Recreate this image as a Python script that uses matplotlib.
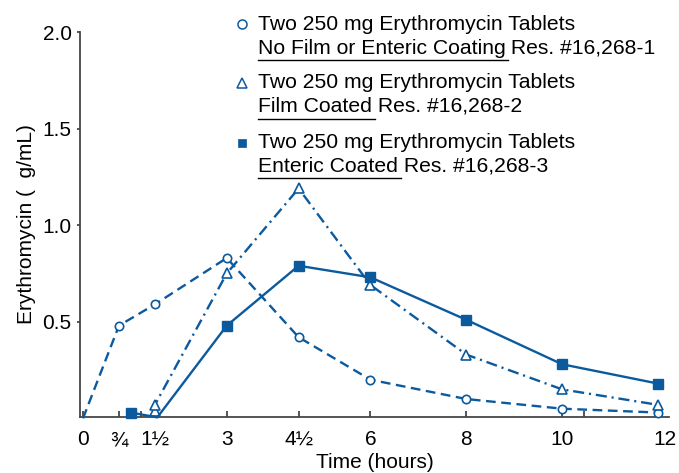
import matplotlib
matplotlib.use('Agg')
import matplotlib.pyplot as plt
from matplotlib.lines import Line2D
from matplotlib.transforms import ScaledTranslation

plt.rcParams['font.family'] = ['Liberation Sans', 'DejaVu Sans']
plt.rcParams['lines.scale_dashes'] = False

BLUE = '#0b5a9e'
AXIS = '#474747'

# Time axis ticks (hours)
time_ticks = [0, 0.75, 1.5, 3, 4.5, 6, 8, 10, 12]
time_labels = ['0', '¾', '1½', '3', '4½', '6', '8', '10', '12']
conc_ticks = [0.5, 1.0, 1.5, 2.0]
conc_labels = ['0.5', '1.0', '1.5', '2.0']

# Uncoated tablets
t_plain = [0, 0.75, 1.5, 3, 4.5, 6, 8, 10, 12]
c_plain = [0.0, 0.48, 0.59, 0.83, 0.42, 0.20, 0.10, 0.05, 0.03]

# Film coated tablets
t_film = [1.5, 1.5, 3, 4.5, 6, 8, 10, 12]
c_film = [0.04, 0.07, 0.75, 1.19, 0.69, 0.33, 0.15, 0.07]

# Enteric coated tablets
t_enteric = [1.0, 1.55, 3, 4.5, 6, 8, 10, 12]
c_enteric = [0.03, 0.005, 0.48, 0.79, 0.73, 0.51, 0.28, 0.18]

legend_entries = [
    ('o', 'white', 6.5, 'No Film or Enteric Coating', ' Res. #16,268-1'),
    ('^', 'white', 7.0, 'Film Coated', ' Res. #16,268-2'),
    ('s', BLUE, 6.0, 'Enteric Coated', ' Res. #16,268-3'),
]
legend_title = 'Two 250 mg Erythromycin Tablets'

W, H = 679, 473
fig = plt.figure(figsize=(W / 100, H / 100), dpi=100)
ax = fig.add_axes([80 / W, 1 - 417 / H, (669 - 80) / W, (417 - 32) / H])

lw = 1.7
ax.plot(t_plain, c_plain, color=BLUE, lw=lw, dashes=(7, 4),
        marker='o', ms=6, mfc='white', mec=BLUE, mew=1.2,
        markevery=list(range(1, len(t_plain))), clip_on=False, zorder=3)
ax.plot(t_film, c_film, color=BLUE, lw=lw, dashes=(8, 3.5, 1.5, 3.5),
        marker='^', ms=7, mfc='white', mec=BLUE, mew=1.2,
        clip_on=False, zorder=3)
ax.plot(t_enteric, c_enteric, color=BLUE, lw=lw, linestyle='-',
        marker='s', ms=6.5, mfc=BLUE, mec=BLUE, mew=1,
        markevery=[0] + list(range(2, len(t_enteric))), clip_on=False, zorder=3)

ax.set_xlim(-0.063, 12.23)
ax.set_ylim(0.007, 2.0)

for side in ('top', 'right'):
    ax.spines[side].set_visible(False)
for side in ('left', 'bottom'):
    ax.spines[side].set_color(AXIS)
    ax.spines[side].set_linewidth(1.3)

ax.set_xticks(time_ticks)
ax.set_xticklabels(time_labels)
ax.set_xticks([1.21, 10.46], minor=True)
ax.set_yticks(conc_ticks)
ax.set_yticklabels(conc_labels)
ax.tick_params(axis='x', which='both', direction='in', length=4, width=1.3,
               color=AXIS, labelsize=15, pad=9.5, labelcolor='black')
ax.tick_params(axis='y', direction='out', length=2.5, width=1.3,
               color=AXIS, labelsize=15, pad=3.5, labelcolor='black')

# last time label sits at the end of the axis line
last = ax.get_xticklabels()[-1]
last.set_transform(last.get_transform() + ScaledTranslation(7 / 100, 0, fig.dpi_scale_trans))

ax.set_xlabel('Time (hours)', fontsize=15, labelpad=3)
ax.set_ylabel('Erythromycin (  g/mL)', fontsize=15, labelpad=5)

# Legend drawn as text with underlined coating descriptions
renderer = fig.canvas.get_renderer()
fs = 15.2
x_text = 257.7
x_mark = 241.7
base = [29.5, 88.0, 148.0]
for (mk, fc, ms, under, rest), yb in zip(legend_entries, base):
    fig.add_artist(Line2D([x_mark / W], [1 - (yb - 5) / H], transform=fig.transFigure,
                          marker=mk, ms=ms, mfc=fc, mec=BLUE,
                          mew=1.1 if mk != 's' else 0.5, linestyle='none'))
    fig.text(x_text / W, 1 - yb / H, legend_title, fontsize=fs, va='baseline', ha='left')
    t2 = fig.text(x_text / W, 1 - (yb + 24) / H, under, fontsize=fs, va='baseline', ha='left')
    ext = t2.get_window_extent(renderer)
    x_end = ext.x1
    fig.add_artist(Line2D([x_text / W, (x_end + 3) / W], [1 - (yb + 30.5) / H] * 2,
                          transform=fig.transFigure, color='black', lw=1.0))
    fig.text(x_end / W, 1 - (yb + 24) / H, rest, fontsize=fs, va='baseline', ha='left')

fig.savefig('out.png', dpi=100)
